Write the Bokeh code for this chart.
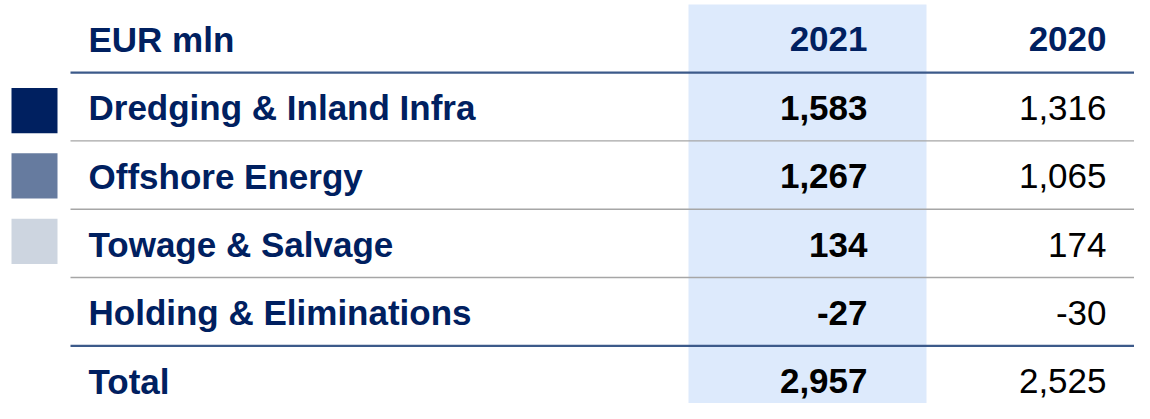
from bokeh.plotting import figure
from bokeh.models import Range1d
from bokeh.core.properties import value
from bokeh.embed import file_html
from bokeh.resources import INLINE

# ---------------- data ----------------
unit_label = "EUR mln"
years = ["2021", "2020"]
categories = ["Dredging & Inland Infra", "Offshore Energy", "Towage & Salvage", "Holding & Eliminations"]
values_2021 = [1583, 1267, 134, -27]
values_2020 = [1316, 1065, 174, -30]
total_label = "Total"
total_2021 = 2957
total_2020 = 2525
legend_colors = ["#002060", "#667B9F", "#CDD5E0"]

# ---------------- style / layout ----------------
NAVY = "#002060"
FONT = value("Liberation Sans")
FS = "35px"
W, H = 1134, 403
FRAME_W, FRAME_H = 1134, 410

row_pitch = 69.6
first_baseline = 39.5
first_sep = 73.3
sep_pitch = 69.5
label_x = 88
col2021_right = 867
col2020_right = 1106
line_left = 70
line_right = FRAME_W

p = figure(width=W, height=H, output_backend="svg", toolbar_location=None,
           x_range=Range1d(0, FRAME_W), y_range=Range1d(FRAME_H, 0),
           min_border=0, outline_line_color=None)
p.axis.visible = False
p.xgrid.visible = False
p.ygrid.visible = False
p.background_fill_color = "white"
p.border_fill_color = "white"

# highlighted 2021 column
p.quad(left=[688], right=[926], top=[4], bottom=[FRAME_H + 2], fill_color="#DDEAFC", line_color=None)

n_rows = len(categories) + 2  # header + categories + total
baselines = [first_baseline + row_pitch * i for i in range(n_rows)]

# separator lines
sep_y = [first_sep + sep_pitch * i for i in range(len(categories) + 1)]
sep_colors = ["#3C5A8A"] + ["#A6A6A6"] * (len(categories) - 1) + ["#3C5A8A"]
sep_widths = [2.2] + [1.4] * (len(categories) - 1) + [2.2]
p.segment(x0=[line_left] * len(sep_y), x1=[line_right] * len(sep_y), y0=sep_y, y1=sep_y,
          line_color=sep_colors, line_width=sep_widths)

# legend squares
sq_centers = [112 + 66.5 * i for i in range(len(legend_colors))]
p.rect(x=[34] * len(legend_colors), y=sq_centers, width=46, height=46,
       fill_color=legend_colors, line_color=None)

# header
p.text(x=[label_x], y=[baselines[0]], text=[unit_label], text_font=FONT, text_font_size=FS,
       text_font_style="bold", text_color=NAVY, text_align="left", text_baseline="alphabetic")
p.text(x=[col2021_right, col2020_right], y=[baselines[0]] * 2, text=years, text_font=FONT,
       text_font_size=FS, text_font_style="bold", text_color=NAVY, text_align="right",
       text_baseline="alphabetic")

# rows
row_labels = categories + [total_label]
v21 = values_2021 + [total_2021]
v20 = values_2020 + [total_2020]
ys = baselines[1:]
p.text(x=[label_x] * len(row_labels), y=ys, text=row_labels, text_font=FONT, text_font_size=FS,
       text_font_style="bold", text_color=NAVY, text_align="left", text_baseline="alphabetic")
p.text(x=[col2021_right] * len(v21), y=ys, text=[f"{v:,}" for v in v21], text_font=FONT,
       text_font_size=FS, text_font_style="bold", text_color="black", text_align="right",
       text_baseline="alphabetic")
p.text(x=[col2020_right] * len(v20), y=ys, text=[f"{v:,}" for v in v20], text_font=FONT,
       text_font_size=FS, text_font_style="normal", text_color="black", text_align="right",
       text_baseline="alphabetic")

open("out.html", "w").write(file_html(p, INLINE))
